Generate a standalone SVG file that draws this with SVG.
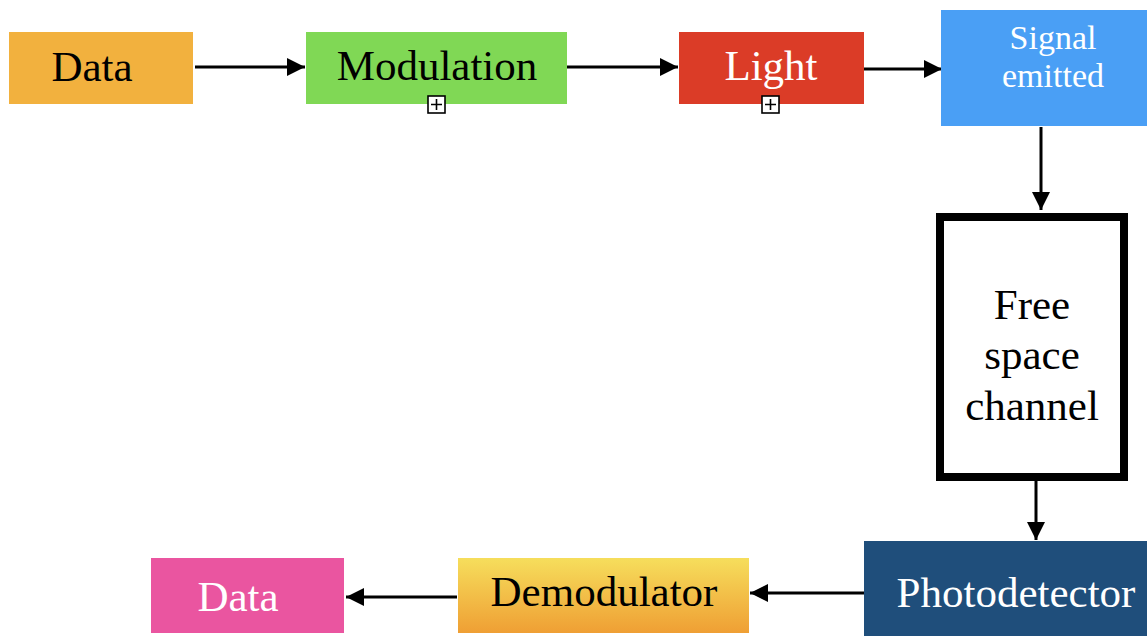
<svg xmlns="http://www.w3.org/2000/svg" width="1147" height="636" viewBox="0 0 1147 636">
<style>
text{font-family:"Liberation Serif","Times New Roman",serif;text-anchor:middle;font-size:43px}
.w{fill:#fff}
.k{fill:#000}
.ln{stroke:#000;stroke-width:3;fill:none}
.ic{fill:#fff;stroke:#000;stroke-width:1.6}
</style>
<defs>
<marker id="ah" markerUnits="userSpaceOnUse" markerWidth="20" markerHeight="22" refX="18" refY="10" orient="auto">
<path d="M0,1 L18,10 L0,19 Z" fill="#000"/>
</marker>
<linearGradient id="dg" x1="0" y1="0" x2="0" y2="1">
<stop offset="0" stop-color="#F6DE5C"/>
<stop offset="1" stop-color="#EF9F34"/>
</linearGradient>
</defs>
<g id="connectors">
<line class="ln" x1="195" y1="67" x2="305" y2="67" marker-end="url(#ah)"/>
<line class="ln" x1="567" y1="67" x2="678" y2="67" marker-end="url(#ah)"/>
<line class="ln" x1="864" y1="69" x2="942" y2="69" marker-end="url(#ah)"/>
<line class="ln" x1="1041" y1="127" x2="1041" y2="210" marker-end="url(#ah)"/>
<line class="ln" x1="1036" y1="481" x2="1036" y2="540" marker-end="url(#ah)"/>
<line class="ln" x1="864" y1="593" x2="750" y2="593" marker-end="url(#ah)"/>
<line class="ln" x1="457" y1="597" x2="346" y2="597" marker-end="url(#ah)"/>
</g>
<g id="data-in">
<rect x="9" y="32" width="184" height="72" fill="#F2B13E"/>
<text x="92" y="81" class="k">Data</text>
</g>
<g id="modulation">
<rect x="306" y="32" width="261" height="72" fill="#80D855"/>
<text x="437" y="80" class="k">Modulation</text>
<rect class="ic" x="428" y="96" width="17" height="17"/>
<path d="M436.5,99 V110 M431,104.5 H442" stroke="#000" stroke-width="1.6"/>
</g>
<g id="light">
<rect x="679" y="32" width="185" height="72" fill="#DB3C27"/>
<text x="771" y="80" class="w">Light</text>
<rect class="ic" x="762" y="96" width="17" height="17"/>
<path d="M770.5,99 V110 M765,104.5 H776" stroke="#000" stroke-width="1.6"/>
</g>
<g id="signal-emitted">
<rect x="941" y="10" width="206" height="116" fill="#4A9FF5"/>
<text x="1053" y="49" class="w" style="font-size:34px">Signal</text>
<text x="1053" y="87" class="w" style="font-size:34px">emitted</text>
</g>
<g id="free-space-channel">
<rect x="940" y="217" width="184" height="260" fill="#fff" stroke="#000" stroke-width="8"/>
<text x="1032" y="319" class="k">Free</text>
<text x="1032" y="369" class="k">space</text>
<text x="1032" y="420" class="k">channel</text>
</g>
<g id="photodetector">
<rect x="864" y="541" width="283" height="95" fill="#1F4E7B"/>
<text x="1016" y="607" class="w">Photodetector</text>
</g>
<g id="demodulator">
<rect x="458" y="558" width="291" height="75" fill="url(#dg)"/>
<text x="604" y="606" class="k">Demodulator</text>
</g>
<g id="data-out">
<rect x="151" y="558" width="193" height="75" fill="#EA55A0"/>
<text x="238" y="611" class="w">Data</text>
</g>
</svg>
